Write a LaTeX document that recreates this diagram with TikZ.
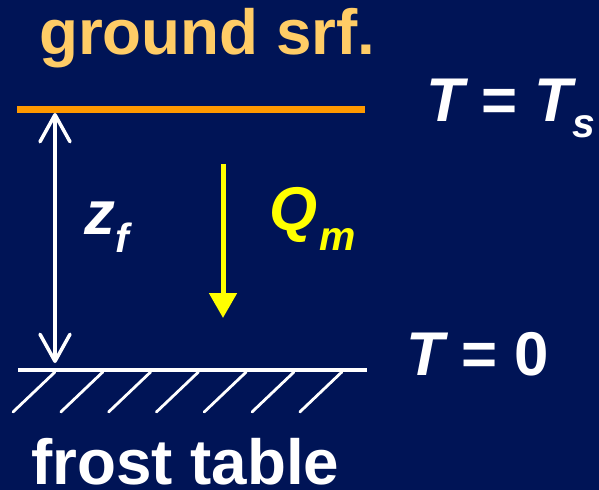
\documentclass[tikz,border=0pt]{standalone}
\usepackage{fontspec}
\setmainfont{Liberation Sans}
\usetikzlibrary{arrows.meta}
\definecolor{bgnavy}{RGB}{0,20,86}
\definecolor{orangeline}{RGB}{255,153,0}
\definecolor{orangetext}{RGB}{255,204,102}
\definecolor{yel}{RGB}{255,255,0}
\tikzset{
  lbl/.style={inner sep=0pt, anchor=base west, font=\fontsize{62}{62}\selectfont\bfseries},
  biglbl/.style={lbl, font=\fontsize{64}{64}\selectfont\bfseries},
  hatch/.style={white, line width=2.8bp, line cap=round},
  dimarrow/.style={white, line width=3.5bp, {Straight Barb[length=27bp,width=30bp,line cap=round,line join=round]}-{Straight Barb[length=27bp,width=30bp,line cap=round,line join=round]}},
  flux/.style={yel, line width=5bp, -{Triangle[length=25bp,width=27bp]}}
}
\newcommand{\subfnt}{\fontsize{41}{41}\selectfont}
\begin{document}
\begin{tikzpicture}[x=1bp,y=-1bp]
\fill[bgnavy] (0,0) rectangle (599,490);
\useasboundingbox (0,0) rectangle (599,490);
% ground surface
\coordinate (gsL) at (17,109.5);
\coordinate (gsR) at (365,109.5);
\draw[orangeline, line width=6.5bp] (gsL) -- (gsR);
% frost table
\coordinate (ftL) at (18,370);
\coordinate (ftR) at (367,370);
\draw[white, line width=4.5bp] (ftL) -- (ftR);
\foreach \k in {0,...,6} {
  \coordinate (h\k) at ({55+47.8*\k},372);
  \coordinate (hb\k) at ({13+47.8*\k},412);
  \draw[hatch] (h\k) -- (hb\k);
}
% dimension arrow
\coordinate (zt) at (55,113);
\coordinate (zb) at (55,363);
\draw[dimarrow] (zt) -- (zb);
% heat flux arrow
\coordinate (qt) at (223,164);
\coordinate (qb) at (223,318);
\draw[flux] (qt) -- (qb);
% labels
\node[biglbl, text=orangetext] (ground) at (39,55) {ground srf.};
\node[biglbl, text=white] (frost) at (31,484.5) {frost table};
\node[lbl, text=white] (Ts) at (426,122) {\itshape T\upshape{} = \itshape T\raisebox{-16bp}{\subfnt s}};
\node[lbl, text=white] (T0) at (406,375) {\itshape T\upshape{} = 0};
\node[lbl, text=white] (zf) at (84,235) {\itshape z\raisebox{-17bp}{\subfnt f}};
\node[lbl, text=yel] (Qm) at (269,231) {\itshape Q\raisebox{-19bp}{\subfnt\hspace{2bp}m}};
\end{tikzpicture}
\end{document}
